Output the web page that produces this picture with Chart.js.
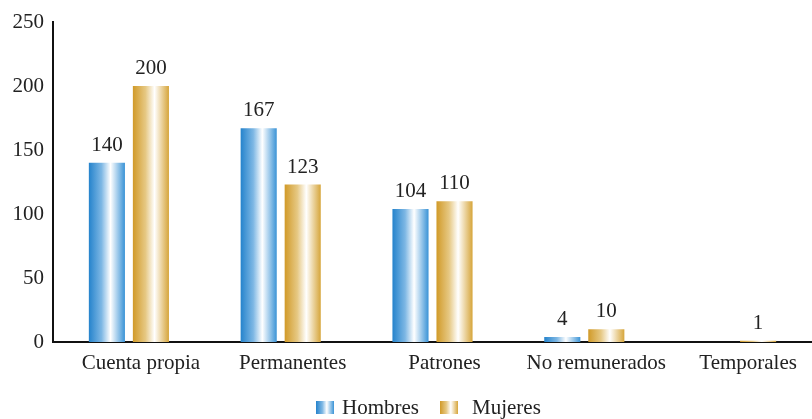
<!DOCTYPE html>
<html>
<head>
<meta charset="utf-8">
<script src="https://cdn.jsdelivr.net/npm/chart.js@4.4.0/dist/chart.umd.min.js"></script>
<style>
  html, body { margin: 0; padding: 0; background: #fff; }
  #wrap { width: 812px; height: 419px; position: relative; }
</style>
</head>
<body>
<div id="wrap"><canvas id="myChart"></canvas></div>
<script>
'use strict';

// data

let categories = ['Cuenta propia', 'Permanentes', 'Patrones', 'No remunerados', 'Temporales'];
let hombres = [140, 167, 104, 4, 0];
let mujeres = [200, 123, 110, 10, 1];
let yTicks = [0, 50, 100, 150, 200, 250];

let catPct = 0.58;
let barPct = 0.82;
let serif = '"Liberation Serif", "DejaVu Serif", serif';

let blueStops = ['#2583cc', '#7db7e4', '#ffffff', '#3a93d6'];
let goldStops = ['#d19a28', '#e6c883', '#ffffff', '#d6a53a'];

// gradient across one bar, worked out from the x scale
function barGradient(stops) {
  return function (ctx) {
    let chart = ctx.chart;
    let xs = chart.scales.x;
    if (!xs || !chart.chartArea || ctx.dataIndex === undefined) {
      return stops[0];
    }
    let catW = xs.width / categories.length;
    let slot = catW * catPct / 2;
    let xc = xs.getPixelForValue(ctx.dataIndex) + (ctx.datasetIndex - 0.5) * slot;
    let half = slot * barPct / 2;
    let g = chart.ctx.createLinearGradient(xc - half, 0, xc + half, 0);
    g.addColorStop(0, stops[0]);
    g.addColorStop(0.35, stops[1]);
    g.addColorStop(0.6, stops[2]);
    g.addColorStop(1, stops[3]);
    return g;
  };
}

// numbers above bars
let valueLabels = {
  id: 'valueLabels',
  afterDatasetsDraw(chart) {
    let ctx = chart.ctx;
    ctx.save();
    ctx.font = '21px ' + serif;
    ctx.fillStyle = '#222';
    ctx.textAlign = 'center';
    ctx.textBaseline = 'bottom';
    chart.data.datasets.forEach(function (ds, d) {
      let meta = chart.getDatasetMeta(d);
      meta.data.forEach(function (bar, i) {
        if (ds.data[i] > 0) {
          ctx.fillText(String(ds.data[i]), bar.x, bar.y - 7);
        }
      });
    });
    ctx.restore();
  }
};

// legend at the bottom with gradient swatches
let bottomLegend = {
  id: 'bottomLegend',
  afterDraw(chart) {
    let ctx = chart.ctx;
    let items = [
      { text: 'Hombres', stops: blueStops, x: 316, gap: 26 },
      { text: 'Mujeres', stops: goldStops, x: 440, gap: 32 }
    ];
    ctx.save();
    ctx.font = '21px ' + serif;
    ctx.fillStyle = '#222';
    ctx.textBaseline = 'middle';
    items.forEach(function (it) {
      let g = ctx.createLinearGradient(it.x, 0, it.x + 18, 0);
      g.addColorStop(0, it.stops[0]);
      g.addColorStop(0.35, it.stops[1]);
      g.addColorStop(0.6, it.stops[2]);
      g.addColorStop(1, it.stops[3]);
      ctx.fillStyle = g;
      ctx.fillRect(it.x, 401, 18, 13);
      ctx.fillStyle = '#222';
      ctx.fillText(it.text, it.x + it.gap, 408);
    });
    ctx.restore();
  }
};

const data = {
  labels: categories,
  datasets: [{
    label: 'Hombres',
    data: hombres,
    backgroundColor: barGradient(blueStops),
    categoryPercentage: catPct,
    barPercentage: barPct
  },
  {
    label: 'Mujeres',
    data: mujeres,
    backgroundColor: barGradient(goldStops),
    categoryPercentage: catPct,
    barPercentage: barPct
  }]
};

const config = {
  type: 'bar',
  data: data,
  options: {
    responsive: true,
    maintainAspectRatio: false,
    animation: false,
    layout: { padding: { top: 22, right: 0, bottom: 35, left: 0 } },
    plugins: {
      legend: { display: false },
      tooltip: { enabled: false }
    },
    scales: {
      x: {
        grid: { display: false, drawTicks: false },
        border: { display: true, color: '#111', width: 2 },
        ticks: {
          color: '#222',
          font: { family: serif, size: 21 },
          maxRotation: 0,
          labelOffset: 12,
          padding: 9
        },
        afterFit: function (s) { s.height = 42; }
      },
      y: {
        min: 0,
        max: 250,
        grid: { display: false, drawTicks: false },
        border: { display: true, color: '#111', width: 2 },
        afterBuildTicks: function (s) {
          s.ticks = yTicks.map(function (v) { return { value: v }; });
        },
        ticks: {
          color: '#222',
          font: { family: serif, size: 21 },
          padding: 9
        },
        afterFit: function (s) { s.width = 53; }
      }
    }
  },
  plugins: [valueLabels, bottomLegend]
};

let canvasChart = document.getElementById('myChart');
const myChart = new Chart(canvasChart, config);
</script>
</body>
</html>
